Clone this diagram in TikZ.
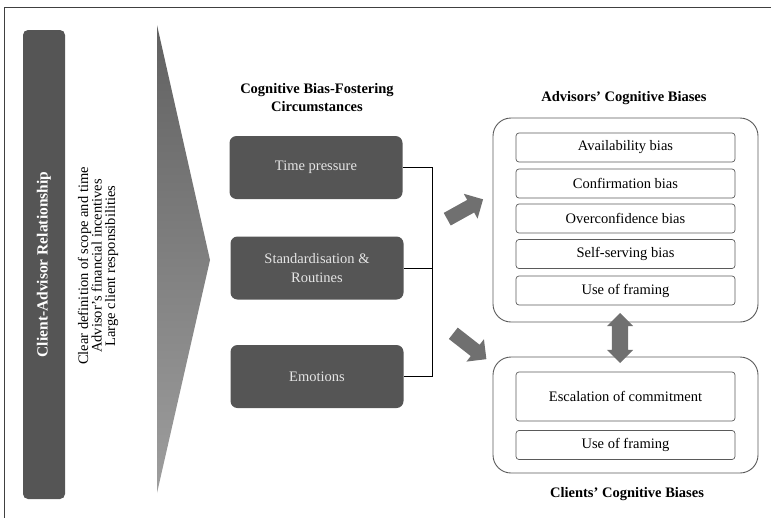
\documentclass[tikz,border=0pt]{standalone}
\usepackage{fontspec}
\setmainfont{Liberation Serif}
\usetikzlibrary{shapes.arrows}
\definecolor{boxgray}{HTML}{555555}
\definecolor{arrowgray}{HTML}{707070}
\definecolor{linegray}{HTML}{5A5A5A}

\begin{document}
\begin{tikzpicture}[x=1pt,y=-1pt,
  darkbox/.style={fill=boxgray,rounded corners=7pt,minimum width=173pt,minimum height=63pt,
    text=white!90!black,align=center,font=\fontsize{14.5}{19}\selectfont},
  biasbox/.style={draw=linegray,line width=.7pt,rounded corners=3pt,minimum width=219pt,
    minimum height=29pt,font=\fontsize{14.5}{17}\selectfont},
  panel/.style={draw=linegray,line width=.9pt,rounded corners=18pt,minimum width=265pt},
  heading/.style={align=center,font=\bfseries\fontsize{14.5}{18}\selectfont},
  blockarrow/.style={single arrow,fill=arrowgray,inner xsep=0pt,inner ysep=7pt,
    single arrow head extend=7pt}]
		\useasboundingbox (0,0) rectangle (771,517);
		\clip (0,0) rectangle (771,517);
		\draw[line width=.8pt,black!75] (4,7) rectangle (800,560);

		% left side
		\node[fill=boxgray,rounded corners=5pt,minimum width=469pt,minimum height=42pt,rotate=90,
		  text=white,font=\bfseries\fontsize{15.5}{18}\selectfont] (relation) at (44,264.5) {Client-Advisor Relationship};
		\node[rotate=90,align=center,font=\fontsize{14.5}{13.5}\selectfont] (factors) at (98,266)
		  {Clear definition of scope and time\\Advisor’s financial incentives\\Large client responsibilities};
		\shade[top color=black!62,bottom color=black!38] (157,25) -- (210,260) -- (157,493) -- cycle;

		% circumstances
		\node[heading] (circtitle) at (317,98) {Cognitive Bias-Fostering\\Circumstances};
		\node[darkbox] (time) at (316,167.5) {Time pressure};
		\node[darkbox] (routine) at (317,268) {Standardisation \&\\Routines};
		\node[darkbox] (emotion) at (317,376.5) {Emotions};
		\coordinate (bus) at (432,268);
		\draw[line width=.9pt] (time.east) -- (time.east -| bus) -- (emotion.east -| bus) -- (emotion.east);
		\draw[line width=.9pt] (routine.east) -- (routine.east -| bus);

		\node[blockarrow,minimum height=41pt,rotate=29] (toadvisor) at (462,211) {};
		\node[blockarrow,minimum height=42pt,rotate=-38] (toclient) at (467,344) {};

		% advisors
		\node[heading] (advtitle) at (624,98) {Advisors’ Cognitive Biases};
		\node[panel,minimum height=204pt] (advpanel) at (625.5,220) {};
		\node[biasbox] (avail) at (625.5,147.5) {Availability bias};
		\node[biasbox] (confirm) at (625.5,183.5) {Confirmation bias};
		\node[biasbox] (overconf) at (625.5,218.5) {Overconfidence bias};
		\node[biasbox] (selfserv) at (625.5,254) {Self-serving bias};
		\node[biasbox] (advframe) at (625.5,290.5) {Use of framing};

		% clients
		\node[panel,minimum height=116pt] (clipanel) at (625.5,415) {};
		\node[biasbox,minimum height=49pt] (escal) at (625.5,396.5) {Escalation of commitment};
		\node[biasbox] (cliframe) at (625.5,445) {Use of framing};
		\node[heading] (clititle) at (627,494) {Clients’ Cognitive Biases};

		\node[double arrow,fill=arrowgray,inner xsep=0pt,inner ysep=8pt,double arrow head extend=5pt,
		  minimum height=50pt,rotate=90] (mutual) at (620,338) {};
		\end{tikzpicture}
\end{document}
